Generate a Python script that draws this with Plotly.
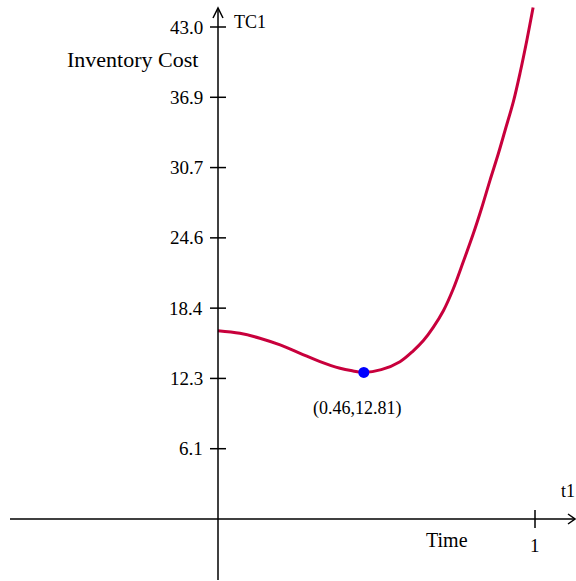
import plotly.graph_objects as go

# ---- data ----
t_vals = [0.0, 0.069, 0.132, 0.196, 0.259, 0.322, 0.385, 0.426, 0.46, 0.515, 0.574,
          0.616, 0.648, 0.679, 0.711, 0.742, 0.774, 0.805, 0.832, 0.858, 0.884,
          0.906, 0.932, 0.953, 0.974, 0.994]
tc_vals = [16.46, 16.23, 15.8, 15.21, 14.48, 13.75, 13.17, 12.94, 12.81, 13.05, 13.75,
           14.7, 15.6, 16.75, 18.2, 20.1, 22.5, 24.9, 27.2, 29.6, 31.9,
           34.0, 36.5, 39.0, 41.8, 44.7]
min_t = [0.46]
min_tc = [12.81]
min_label = "(0.46,12.81)"
y_tick_vals = [43.0 / 7 * k for k in range(1, 8)]
y_tick_text = ["6.1", "12.3", "18.4", "24.6", "30.7", "36.9", "43.0"]
x_tick_vals = [1]
x_tick_text = ["1"]

W, H = 576, 581
X0_PX, X1_PX = 218, 535      # pixel of t=0 and t=1
Y0_PX, PX_PER_Y = 519, 492 / 43.0
x_rng = [-X0_PX / (X1_PX - X0_PX), (W - X0_PX) / (X1_PX - X0_PX)]
y_rng = [-(H - Y0_PX) / PX_PER_Y, Y0_PX / PX_PER_Y]


def dx(px):
    return (px - X0_PX) / (X1_PX - X0_PX)


def dy(py):
    return (Y0_PX - py) / PX_PER_Y


FONT = "Liberation Serif, Times New Roman, serif"
CURVE = "#c8003c"

fig = go.Figure()
fig.add_trace(go.Scatter(x=t_vals, y=tc_vals, mode="lines",
                         line=dict(color=CURVE, width=3, shape="spline", smoothing=1.0),
                         hoverinfo="skip"))
fig.add_trace(go.Scatter(x=min_t, y=min_tc, mode="markers",
                         marker=dict(color="#0000ff", size=11), hoverinfo="skip"))

shapes = []
ax = dict(color="black", width=1.5)
# axes
shapes.append(dict(type="line", xref="x", yref="y", x0=dx(10), x1=dx(575), y0=0, y1=0, line=ax))
shapes.append(dict(type="line", xref="x", yref="y", x0=0, x1=0, y0=dy(580), y1=dy(8), line=ax))
# arrow heads
shapes.append(dict(type="path", xref="x", yref="y", xsizemode="pixel", ysizemode="pixel",
                   xanchor=0, yanchor=dy(8), path="M -5,-10 L 0,0 L 5,-10", line=ax))
shapes.append(dict(type="path", xref="x", yref="y", xsizemode="pixel", ysizemode="pixel",
                   xanchor=dx(575), yanchor=0, path="M -7,5 L 0,0 L -7,-5", line=ax))
# ticks
for v in y_tick_vals:
    shapes.append(dict(type="line", xref="x", yref="y", xsizemode="pixel", xanchor=0,
                       x0=-8, x1=8, y0=v, y1=v, line=ax))
for v in x_tick_vals:
    shapes.append(dict(type="line", xref="x", yref="y", ysizemode="pixel", yanchor=0,
                       y0=-9, y1=9, x0=v, x1=v, line=ax))

ann = []
for v, s in zip(y_tick_vals, y_tick_text):
    ann.append(dict(x=0, y=v, xref="x", yref="y", text=s, showarrow=False,
                    xanchor="right", yanchor="middle", xshift=-13,
                    font=dict(family=FONT, size=19, color="black")))
for v, s in zip(x_tick_vals, x_tick_text):
    ann.append(dict(x=v, y=0, xref="x", yref="y", text=s, showarrow=False,
                    xanchor="center", yanchor="middle", yshift=-26,
                    font=dict(family=FONT, size=19, color="black")))


def lab(text, px, py, size, anchor="center"):
    ann.append(dict(x=px / W, y=1 - py / H, xref="paper", yref="paper", text=text,
                    showarrow=False, xanchor=anchor, yanchor="middle",
                    font=dict(family=FONT, size=size, color="black")))


lab("Inventory Cost", 132, 60, 22)
lab("TC1", 232, 22, 18, anchor="left")
lab("t1", 559, 491, 18, anchor="left")
lab("Time", 447, 540, 20)
lab(min_label, 357, 409, 18)

fig.update_layout(width=W, height=H, margin=dict(l=0, r=0, t=0, b=0),
                  paper_bgcolor="white", plot_bgcolor="white", showlegend=False,
                  xaxis=dict(range=x_rng, visible=False, fixedrange=True),
                  yaxis=dict(range=y_rng, visible=False, fixedrange=True),
                  shapes=shapes, annotations=ann)
fig.write_html("out.html", config={"displayModeBar": False},
               post_script="document.body.style.margin='0';document.body.style.overflow='hidden';")
